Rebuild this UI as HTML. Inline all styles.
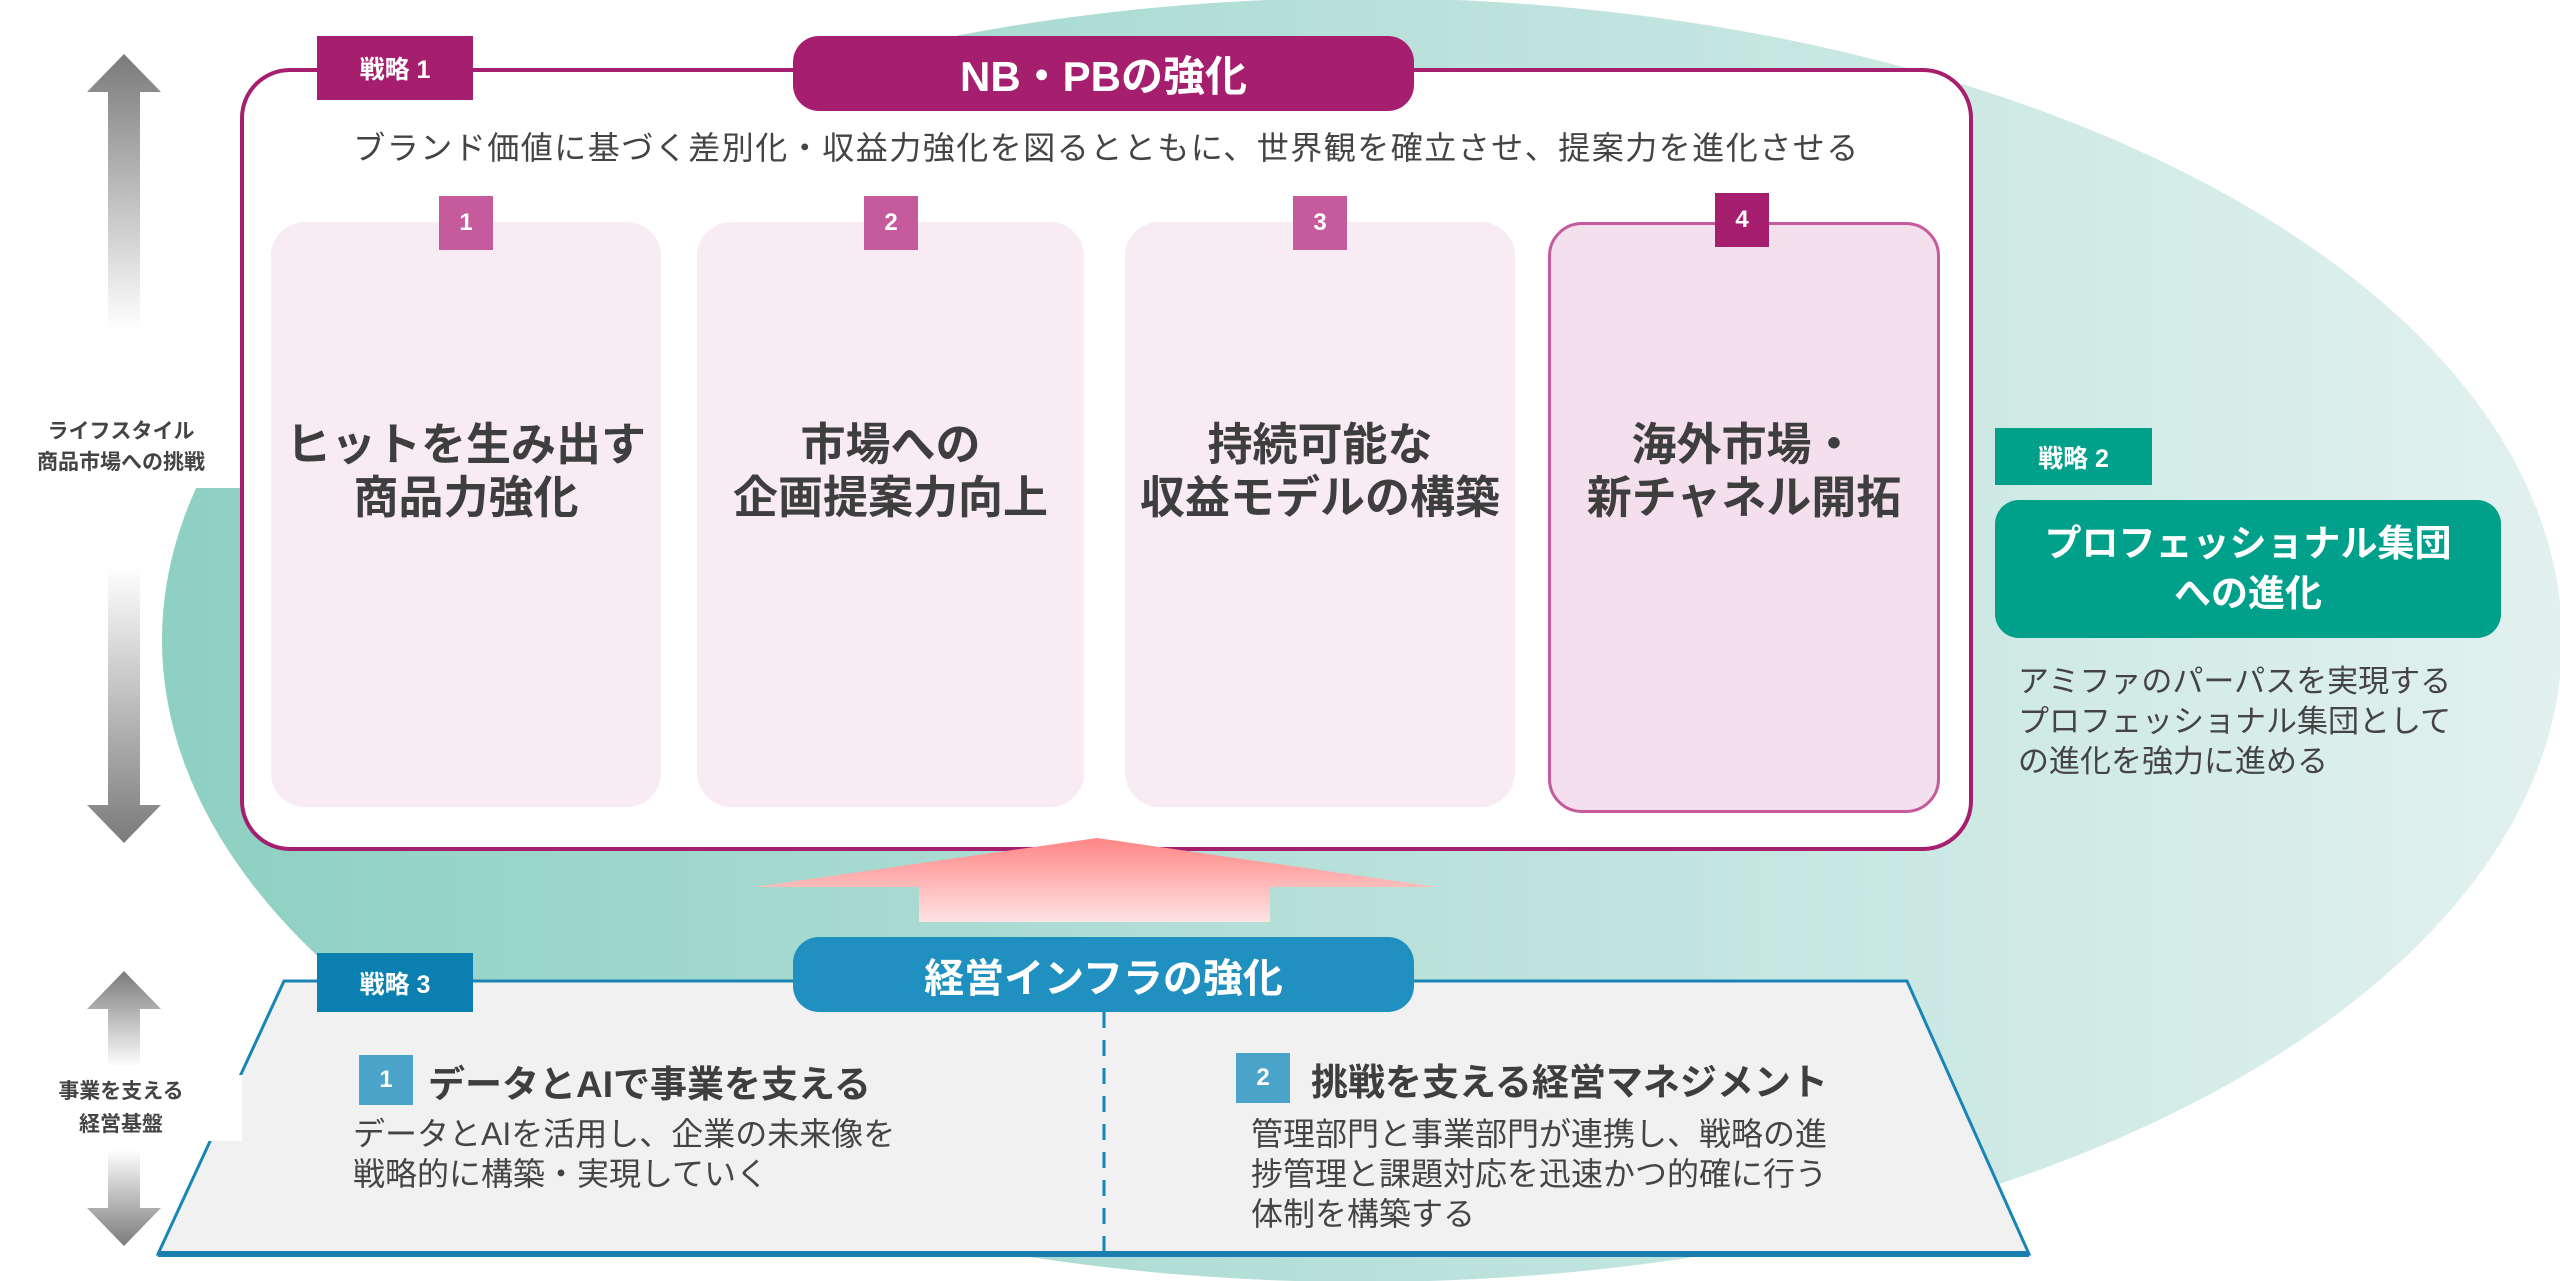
<!DOCTYPE html>
<html><head><meta charset="utf-8"><style>
body{margin:0;width:2560px;height:1281px;overflow:hidden;background:#fff;font-family:"Liberation Sans","Noto Sans CJK JP",sans-serif;position:relative}
.a{position:absolute}
.c{display:flex;align-items:center;justify-content:center;text-align:center}
.card{position:absolute;top:222px;height:585px;background:#f8ebf4;border-radius:34px}
.ct{position:absolute;left:0;right:0;top:196px;font-size:45px;font-weight:bold;color:#3e3e3e;line-height:53px;text-align:center}
.bd{position:absolute;width:54px;height:54px;background:#c55a9d;color:#fff;font-size:24px;font-weight:bold;display:flex;align-items:center;justify-content:center}
.tab{position:absolute;color:#fff;font-size:25px;font-weight:bold;display:flex;align-items:center;justify-content:center}
</style></head><body>
<svg class="a" style="left:0;top:0" width="2560" height="1281">
<defs>
<linearGradient id="eg" x1="0" x2="1"><stop offset="0" stop-color="#8dd0c3"/><stop offset="1" stop-color="#e2f1ef"/></linearGradient>
<linearGradient id="ga" x1="0" y1="0" x2="0" y2="1"><stop offset="0" stop-color="#7a7a7a"/><stop offset="0.35" stop-color="#fff"/><stop offset="0.65" stop-color="#fff"/><stop offset="1" stop-color="#7a7a7a"/></linearGradient>
<linearGradient id="pa" x1="0" y1="0" x2="0" y2="1"><stop offset="0" stop-color="#ff8585"/><stop offset="1" stop-color="#ffe3e3"/></linearGradient>
</defs>
<ellipse cx="1362" cy="640" rx="1200" ry="642" fill="url(#eg)"/>
<rect x="0" y="408" width="242" height="80" fill="#fff"/>
<path d="M124 54 L161 92 L140 92 L140 805 L161 805 L124 843 L87 805 L108 805 L108 92 L87 92 Z" fill="url(#ga)"/>
<path d="M124 971 L161 1009 L140 1009 L140 1208 L161 1208 L124 1246 L87 1208 L108 1208 L108 1009 L87 1009 Z" fill="url(#ga)"/>
<rect x="242" y="70" width="1729" height="779" rx="48" fill="#fff" stroke="#a61f6f" stroke-width="4"/>
<path d="M1097 838 L1437 887 L1270 887 L1270 922 L919 922 L919 887 L754 887 Z" fill="url(#pa)"/>
<path d="M284 981 L1907 981 L2029 1254 L158 1254 Z" fill="#f1f1f1" stroke="#1a85b5" stroke-width="3"/>
<line x1="158" y1="1254" x2="2029" y2="1254" stroke="#1a7fb0" stroke-width="6"/>
<line x1="1104" y1="1012" x2="1104" y2="1252" stroke="#1a85b5" stroke-width="3" stroke-dasharray="16,12"/>
</svg>
<div class="tab" style="left:317px;top:36px;width:156px;height:64px;background:#a61f6f">戦略 1</div>
<div class="a c" style="left:793px;top:36px;width:621px;height:75px;background:#a61f6f;border-radius:26px;color:#fff;font-size:42px;font-weight:bold">NB・PBの強化</div>
<div class="a" style="left:242px;width:1729px;top:123px;text-align:center;font-size:32px;color:#444;letter-spacing:1.5px">ブランド価値に基づく差別化・収益力強化を図るとともに、世界観を確立させ、提案力を進化させる</div>
<div class="card" style="left:271px;width:390px"><div class="ct">ヒットを生み出す<br>商品力強化</div></div>
<div class="card" style="left:697px;width:387px"><div class="ct">市場への<br>企画提案力向上</div></div>
<div class="card" style="left:1125px;width:390px"><div class="ct">持続可能な<br>収益モデルの構築</div></div>
<div class="card" style="left:1548px;width:386px;background:#f4e0ec;border:3px solid #c55a9d"><div class="ct" style="top:193px">海外市場・<br>新チャネル開拓</div></div>
<div class="bd" style="left:439px;top:196px">1</div>
<div class="bd" style="left:864px;top:196px">2</div>
<div class="bd" style="left:1293px;top:196px">3</div>
<div class="bd" style="left:1715px;top:193px;background:#a61f6f">4</div>
<div class="a" style="left:0;width:242px;top:416px;text-align:center;font-size:21px;font-weight:bold;color:#444;line-height:31px">ライフスタイル<br>商品市場への挑戦</div>
<div class="a" style="left:0;width:242px;top:1075px;text-align:center;font-size:21px;font-weight:bold;color:#444;line-height:33px;background:#fff">事業を支える<br>経営基盤</div>
<div class="tab" style="left:1995px;top:428px;width:157px;height:57px;background:#00a08a">戦略 2</div>
<div class="a c" style="left:1995px;top:500px;width:506px;height:138px;background:#00a08a;border-radius:24px;color:#fff;font-size:37px;font-weight:bold;line-height:50px">プロフェッショナル集団<br>への進化</div>
<div class="a" style="left:2018px;top:662px;font-size:31px;color:#444;line-height:40px">アミファのパーパスを実現する<br>プロフェッショナル集団として<br>の進化を強力に進める</div>
<div class="tab" style="left:317px;top:953px;width:156px;height:59px;background:#0a7fb0">戦略 3</div>
<div class="a c" style="left:793px;top:937px;width:621px;height:75px;background:#2090c0;border-radius:26px;color:#fff;font-size:40px;font-weight:bold">経営インフラの強化</div>
<div class="bd" style="left:359px;top:1055px;height:50px;background:#4aa3c8">1</div>
<div class="a" style="left:428px;top:1054px;font-size:37px;font-weight:bold;color:#3e3e3e">データとAIで事業を支える</div>
<div class="a" style="left:353px;top:1114px;font-size:32px;color:#444;line-height:40px">データとAIを活用し、企業の未来像を<br>戦略的に構築・実現していく</div>
<div class="bd" style="left:1236px;top:1053px;height:50px;background:#4aa3c8">2</div>
<div class="a" style="left:1311px;top:1052px;font-size:37px;font-weight:bold;color:#3e3e3e">挑戦を支える経営マネジメント</div>
<div class="a" style="left:1251px;top:1114px;font-size:32px;color:#444;line-height:40px">管理部門と事業部門が連携し、戦略の進<br>捗管理と課題対応を迅速かつ的確に行う<br>体制を構築する</div>
</body></html>
